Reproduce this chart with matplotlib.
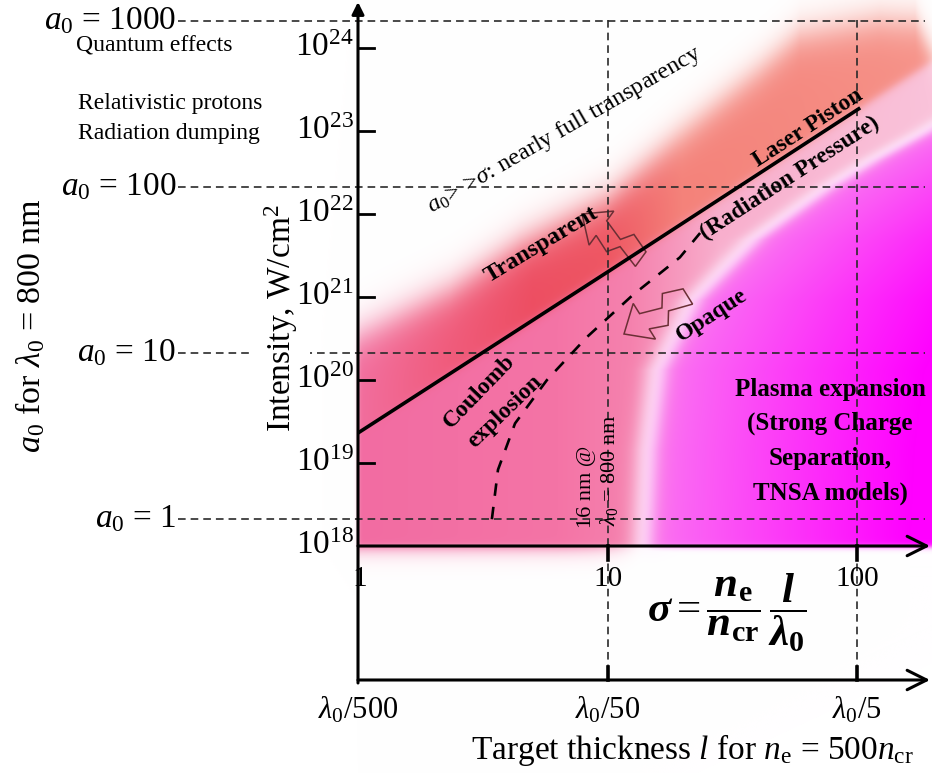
import numpy as np
import matplotlib
matplotlib.use("Agg")
import matplotlib.pyplot as plt
from matplotlib.patches import Polygon

plt.rcParams['font.family'] = ['Liberation Serif', 'DejaVu Serif']
plt.rcParams['mathtext.fontset'] = 'custom'
plt.rcParams['mathtext.rm'] = 'Liberation Serif'
plt.rcParams['mathtext.it'] = 'Liberation Serif:italic'
plt.rcParams['mathtext.bf'] = 'Liberation Serif:bold'
plt.rcParams['mathtext.bfit'] = 'Liberation Serif:bold:italic'
plt.rcParams['lines.scale_dashes'] = False

# ---------------- data ----------------
sigma_ticks = [1, 10, 100]
sigma_tick_labels = ['1', '10', '100']
thickness_tick_labels = [r'$\lambda_0$/500', r'$\lambda_0$/50', r'$\lambda_0$/5']
intensity_ticks = [1e18, 1e19, 1e20, 1e21, 1e22, 1e23, 1e24]
intensity_tick_labels = [r'$\mathregular{10^{18}}$', r'$\mathregular{10^{19}}$',
                         r'$\mathregular{10^{20}}$', r'$\mathregular{10^{21}}$',
                         r'$\mathregular{10^{22}}$', r'$\mathregular{10^{23}}$',
                         r'$\mathregular{10^{24}}$']
a0_labels = ['1', '10', '100', '1000']
a0_intensity = [2.14e18, 2.14e20, 2.14e22, 2.14e24]

# transparency threshold (solid line, a0 ~ sigma)
rpa_sigma = [1, 10, 103]
rpa_intensity = [2.3e19, 2.0e21, 1.9e23]

# dashed boundary (Coulomb explosion / opaque)
coulomb_sigma = [3.44, 3.64, 4.26, 5.72, 8.28, 12.6, 19.5, 23.5]
coulomb_intensity = [2.1e18, 8.3e18, 3.0e19, 1.0e20, 3.3e20, 1.05e21, 3.0e21, 5.9e21]

# edges of the coloured regimes
upper_edge_sigma = [1, 2.34, 4.46, 10, 19.5, 40.8, 59.2, 123, 171, 200]
upper_edge_intensity = [3.5e20, 1.2e21, 4.3e21, 1.5e22, 8.9e22, 5.4e23, 1.45e24,
                        2.2e24, 2.1e24, 8.3e23]
opaque_edge_sigma = [14.8, 15.5, 17.0, 23.5, 40.8, 78, 123, 200, 595]
opaque_edge_intensity = [6.8e17, 1.45e19, 1.3e20, 9.1e20, 4.9e21, 1.95e22, 4.5e22,
                         1.0e23, 7.2e23]

# ---------------- layout ----------------
W, H = 932, 773
X_ONE, PX_DEC_X = 358.0, 249.5     # pixel of sigma=1, pixels per decade
Y_18, PX_DEC_Y = 546.0, 83.0       # pixel of 1e18, pixels per decade
umin = -X_ONE / PX_DEC_X
umax = (W - X_ONE) / PX_DEC_X
vmax = 18 + Y_18 / PX_DEC_Y
vmin = 18 - (H - Y_18) / PX_DEC_Y


def to_px(s, inten):
    u = np.log10(np.asarray(s, float))
    v = np.log10(np.asarray(inten, float))
    return (u - umin) / (umax - umin) * W, (vmax - v) / (vmax - vmin) * H


def px_sigma(X):
    return 10 ** (umin + X / W * (umax - umin))


def px_int(Y):
    return 10 ** (vmax - Y / H * (vmax - vmin))


fig = plt.figure(figsize=(W / 100, H / 100), dpi=100)
ax_bg = fig.add_axes([0, 0, 1, 1], zorder=0)
ax_bg.set_xlim(umin, umax)
ax_bg.set_ylim(vmin, vmax)
ax_bg.axis('off')

ax = fig.add_axes([0, 0, 1, 1], zorder=1)
ax.set_xscale('log')
ax.set_yscale('log')
ax.set_xlim(10 ** umin, 10 ** umax)
ax.set_ylim(10 ** vmin, 10 ** vmax)
ax.axis('off')
ax.patch.set_alpha(0)

# ---------------- background colour field ----------------
Yg, Xg = np.mgrid[0:H, 0:W] + 0.5


def sg(z):
    return 1.0 / (1.0 + np.exp(-np.clip(z, -60, 60)))


lx, ly = to_px(rpa_sigma, rpa_intensity)
k, b = np.polyfit(lx, ly, 1)
d = (k * Xg + b) - Yg            # > 0 above the solid line

ux, uy = to_px(upper_edge_sigma, upper_edge_intensity)
Yup = np.interp(Xg, ux, uy)
inside = sg((Yg - Yup) / 11) * sg((Xg - X_ONE) / 1.0) * sg((Y_18 + 1 - Yg) / 1.5)
below_fade = (Yg > Y_18) * np.exp(-np.clip(Yg - Y_18, 0, None) / 7.0) \
    * sg((625 - Xg) / 15) * (Xg > X_ONE)
inside = np.maximum(inside, 0.85 * below_fade)


def ramp(xp, cols, X):
    cols = np.asarray(cols, float)
    return np.stack([np.interp(X, xp, cols[:, c]) for c in range(3)], axis=-1)


above_x = X_ONE + PX_DEC_X * np.array([0, 0.35, 0.7, 1.0, 1.3, 2.3])
above_cols = [(242, 110, 158), (240, 92, 125), (237, 78, 98), (238, 86, 98),
              (244, 130, 122), (246, 146, 136)]
below_x = X_ONE + PX_DEC_X * np.array([0, 0.8, 1.1, 1.45, 2.3])
below_cols = [(242, 108, 162), (244, 116, 166), (245, 130, 174), (248, 175, 205),
              (250, 195, 218)]
Ca = ramp(above_x, above_cols, Xg)
Cb = ramp(below_x, below_cols, Xg)
t = sg(d / 3.0)[..., None]
C = t * Ca + (1 - t) * Cb

mx, my = to_px(opaque_edge_sigma, opaque_edge_intensity)
Xm = np.interp(Yg, my[::-1], mx[::-1])
dm = Xg - Xm
halo = (0.85 * np.exp(-((dm + 4) / 16.0) ** 2))[..., None]
m = sg(dm / 7.0)[..., None]
tt = np.clip(dm / 260.0, 0, 1)[..., None]
mag = (1 - tt) * np.array([250, 115, 242.0]) + tt * np.array([255, 0, 255.0])
C = C * (1 - halo) + 255 * halo
C = C * (1 - m) + mag * m

ins = inside[..., None]
img = (255 * (1 - ins) + C * ins) / 255.0
ax_bg.imshow(np.clip(img, 0, 1), extent=[umin, umax, vmin, vmax], origin='upper',
             aspect='auto', interpolation='bilinear', zorder=0)

# ---------------- dashed guide lines ----------------
dash_kw = dict(color='#2a2a2a', lw=1.2, dashes=(5.5, 3.6), zorder=2)
for I in a0_intensity:
    ax.plot([px_sigma(178), px_sigma(925)], [I, I], **dash_kw)
for s in sigma_ticks[1:]:
    ax.plot([s, s], [px_int(20), px_int(680)], **dash_kw)

# ---------------- curves ----------------
ax.plot(rpa_sigma, rpa_intensity, color='black', lw=2.6, zorder=4,
        solid_capstyle='butt')
ax.plot(coulomb_sigma, coulomb_intensity, color='black', lw=1.9,
        dashes=(9, 8), zorder=4)

# ---------------- axes (arrows) ----------------
akw = dict(arrowstyle='-|>', lw=2.2, color='black', mutation_scale=18,
           shrinkA=0, shrinkB=0)
ax.annotate('', xy=(1, px_int(2)), xytext=(1, px_int(683)),
            arrowprops=dict(akw), zorder=6)
okw = dict(arrowstyle='->,head_length=0.7,head_width=0.35', lw=2.2, color='black',
           shrinkA=0, shrinkB=0, mutation_scale=20)
ax.annotate('', xy=(px_sigma(930), 1e18), xytext=(1, 1e18),
            arrowprops=dict(okw), zorder=6)
ax.annotate('', xy=(px_sigma(930), px_int(680)), xytext=(1, px_int(680)),
            arrowprops=dict(okw), zorder=6)

# ticks
for I in intensity_ticks[1:]:
    ax.plot([1, px_sigma(374)], [I, I], color='black', lw=2.0, zorder=6)
for s in sigma_ticks[1:]:
    ax.plot([s, s], [1e18, px_int(560)], color='black', lw=2.6, zorder=6)
    ax.plot([s, s], [px_int(680), px_int(667)], color='black', lw=2.6, zorder=6)

# tick labels
ytr = ax.get_yaxis_transform()
for I, lab in zip(intensity_ticks, intensity_tick_labels):
    ax.text(354 / W, I, lab, transform=ytr, ha='right', va='center', fontsize=24,
            zorder=7)
xtr = ax.get_xaxis_transform()
for s, lab in zip(sigma_ticks, sigma_tick_labels):
    ax.text(s * (1.012 if s == 1 else 1.0), 1 - 579 / H, lab, transform=xtr,
            ha='center', va='center', fontsize=21, zorder=3)
for s, lab in zip(sigma_ticks, thickness_tick_labels):
    ax.text(s, 1 - 710 / H, lab, transform=xtr, ha='center', va='center',
            fontsize=22, zorder=7)

# a0 labels
for I, lab in zip(a0_intensity, a0_labels):
    ax.text(176 / W, I, r'$a_0$ = ' + lab, transform=ytr, ha='right', va='center',
            fontsize=24, zorder=7)


def ftext(X, Y, s, **kw):
    ax.text(X / W, 1 - Y / H, s, transform=ax.transAxes, **kw)


# axis titles
ftext(281, 318, r'Intensity, W/cm$^2$', rotation=90, ha='center', va='center',
      fontsize=24, zorder=5,
      bbox=dict(boxstyle='square,pad=0.32', fc='white', ec='none'))
ftext(30, 326, r'$a_0$ for $\lambda_0$ = 800 nm', rotation=90, ha='center',
      va='center', fontsize=24.5)
ftext(692, 750, r'Target thickness $l$ for $n_\mathrm{e}$ = 500$n_\mathrm{cr}$',
      ha='center', va='center', fontsize=24)
ftext(727, 613,
      r'$\mathbfit{\sigma} = \dfrac{\mathbfit{n}_\mathbf{e}}{\mathbfit{n}_\mathbf{cr}}'
      r'\,\dfrac{\mathbfit{l}}{\mathbfit{\lambda}_\mathbf{0}}$',
      ha='center', va='center', fontsize=31)

# left-side notes
ftext(76, 46, 'Quantum effects', ha='left', va='center', fontsize=17)
ftext(78, 103, 'Relativistic protons', ha='left', va='center', fontsize=17)
ftext(78, 133, 'Radiation dumping', ha='left', va='center', fontsize=17)

# regime labels
rot = dict(rotation_mode='anchor', ha='center', va='center')
ftext(565, 130, r'$a_0\!>>\!\sigma$: nearly full transparency', rotation=30,
      fontsize=17.5, **rot)
ftext(541, 245, 'Transparent', rotation=31, fontsize=17.5, fontweight='bold', **rot)
ftext(808, 128, 'Laser Piston', rotation=33, fontsize=17, fontweight='bold', **rot)
ftext(790, 178, '(Radiation Pressure)', rotation=33, fontsize=17,
      fontweight='bold', **rot)
ftext(712, 315, 'Opaque', rotation=33, fontsize=17, fontweight='bold', **rot)
ftext(479, 392, 'Coulomb', rotation=46, fontsize=17, fontweight='bold', **rot)
ftext(505, 412, 'explosion', rotation=44, fontsize=17, fontweight='bold', **rot)
ftext(586, 487, '16 nm @', rotation=90, fontsize=16, **rot)
ftext(609, 470, r'$\lambda_0$ = 800 nm', rotation=90, fontsize=16, **rot)
for Y, s in zip([390, 423, 458, 493],
                ['Plasma expansion', '(Strong Charge', 'Separation,', 'TNSA models)']):
    ftext(830, Y, s, ha='center', va='center', fontsize=18, fontweight='bold')


# hollow jagged arrows (shape in pixels, placed on the background axes)
def jag_arrow(X0, Y0, ang, scale=1.0):
    shape = np.array([(0, 0), (-24, 21), (-24, 9), (-42, 16), (-50, 4), (-74, 11),
                      (-74, -7), (-54, -14), (-46, -2), (-24, -9), (-24, -21)])
    a = np.deg2rad(ang)
    R = np.array([[np.cos(a), -np.sin(a)], [np.sin(a), np.cos(a)]])
    p = (shape * scale) @ R.T
    Xs = X0 + p[:, 0]
    Ys = Y0 - p[:, 1]
    u = umin + Xs / W * (umax - umin)
    v = vmax - Ys / H * (vmax - vmin)
    ax_bg.add_patch(Polygon(np.c_[u, v], closed=True, fill=False, ec='#6b2f35',
                            lw=1.1, zorder=3))


jag_arrow(582, 214, 144, 1.0)
jag_arrow(624, 334, 212, 1.0)

fig.savefig('out.png', dpi=100)
